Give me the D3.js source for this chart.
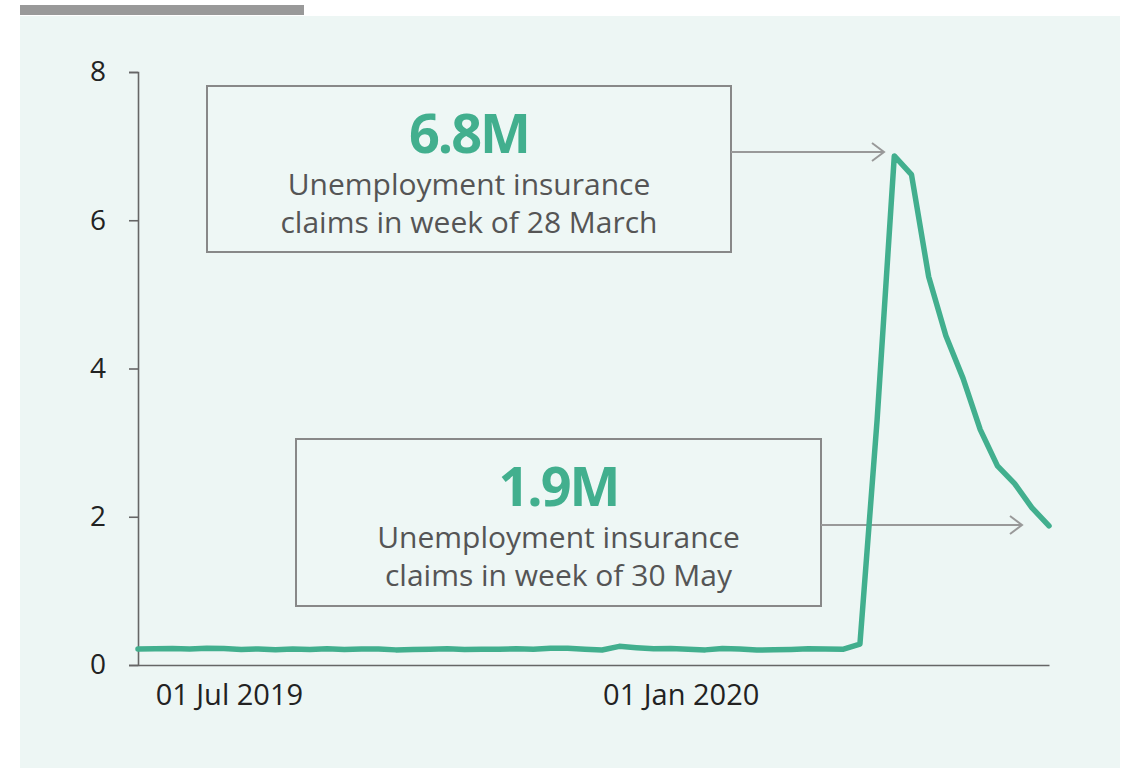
<!DOCTYPE html>
<html>
<head>
<meta charset="utf-8">
<script src="https://cdn.jsdelivr.net/npm/d3@7"></script>
<style>
  body { margin: 0; background: #fff; font-family: "Open Sans", sans-serif; }
  svg { display: block; }
</style>
</head>
<body>
<div id="chart"></div>
<script>
// weekly initial claims, week ending (Saturday)
var weeks = [
  "2019-05-25","2019-06-01","2019-06-08","2019-06-15","2019-06-22","2019-06-29",
  "2019-07-06","2019-07-13","2019-07-20","2019-07-27","2019-08-03","2019-08-10",
  "2019-08-17","2019-08-24","2019-08-31","2019-09-07","2019-09-14","2019-09-21",
  "2019-09-28","2019-10-05","2019-10-12","2019-10-19","2019-10-26","2019-11-02",
  "2019-11-09","2019-11-16","2019-11-23","2019-11-30","2019-12-07","2019-12-14",
  "2019-12-21","2019-12-28","2020-01-04","2020-01-11","2020-01-18","2020-01-25",
  "2020-02-01","2020-02-08","2020-02-15","2020-02-22","2020-02-29","2020-03-07",
  "2020-03-14","2020-03-21","2020-03-28","2020-04-04","2020-04-11","2020-04-18",
  "2020-04-25","2020-05-02","2020-05-09","2020-05-16","2020-05-23","2020-05-30"
];
// millions
var claims = [
  0.215,0.218,0.222,0.216,0.227,0.221,
  0.209,0.216,0.206,0.215,0.209,0.220,
  0.209,0.215,0.217,0.204,0.208,0.213,
  0.219,0.210,0.214,0.212,0.218,0.211,
  0.225,0.227,0.213,0.203,0.252,0.234,
  0.220,0.222,0.214,0.204,0.223,0.216,
  0.201,0.205,0.210,0.219,0.216,0.211,
  0.282,3.307,6.867,6.615,5.237,4.442,
  3.867,3.176,2.687,2.446,2.123,1.877
];
var yTicks = [0, 2, 4, 6, 8];
var xTicks = ["2019-07-01", "2020-01-01"];

var notes = [
  {value: "6.8M", line1: "Unemployment insurance", line2: "claims in week of 28 March"},
  {value: "1.9M", line1: "Unemployment insurance", line2: "claims in week of 30 May"}
];

var parse = d3.timeParse("%Y-%m-%d");
var data = weeks.map(function(w, i) { return {date: parse(w), value: claims[i]}; });

var W = 1125, H = 768;
var svg = d3.select("#chart").append("svg").attr("width", W).attr("height", H);

// header bar + panel
svg.append("rect").attr("x", 20).attr("y", 5).attr("width", 284).attr("height", 10).attr("fill", "#999999");
svg.append("rect").attr("x", 20).attr("y", 16).attr("width", 1100).attr("height", H - 16).attr("fill", "#edf6f4");

var x = d3.scaleTime()
  .domain(d3.extent(data, function(d) { return d.date; }))
  .range([138, 1049]);
var y = d3.scaleLinear().domain([0, 8]).range([665, 72]);

var yAxis = svg.append("g")
  .attr("transform", "translate(138,0)")
  .call(d3.axisLeft(y).tickValues(yTicks).tickSize(9).tickPadding(23));
var xAxis = svg.append("g")
  .attr("transform", "translate(0,665)")
  .call(d3.axisBottom(x).tickValues(xTicks.map(parse)).tickSize(0).tickPadding(19)
    .tickFormat(d3.timeFormat("%d %b %Y")));

[yAxis, xAxis].forEach(function(g) {
  g.selectAll("path, line").attr("stroke", "#666").attr("stroke-width", 1.6);
  g.selectAll("text").attr("fill", "#222").style("font-family", "Open Sans").style("font-size", "28px");
});
xAxis.selectAll("text").style("font-size", "29px");

// boxes
var boxes = [
  {x: 207, y: 86, w: 524, h: 166, ay: 152, tip: 884},
  {x: 296, y: 439, w: 525, h: 167, ay: 525, tip: 1022}
];
boxes.forEach(function(b, i) {
  var g = svg.append("g");
  g.append("rect").attr("x", b.x).attr("y", b.y).attr("width", b.w).attr("height", b.h)
    .attr("fill", "#eef7f5").attr("stroke", "#888").attr("stroke-width", 2);
  var cx = b.x + b.w / 2;
  g.append("text").attr("x", cx).attr("y", b.y + 67).attr("text-anchor", "middle")
    .attr("fill", "#42af8e").style("font-family", "Open Sans").style("font-weight", "bold")
    .style("font-size", "54px").style("letter-spacing", "-2px").text(notes[i].value);
  g.append("text").attr("x", cx).attr("y", b.y + 109).attr("text-anchor", "middle")
    .attr("fill", "#555").style("font-size", "30px").text(notes[i].line1);
  g.append("text").attr("x", cx).attr("y", b.y + 147).attr("text-anchor", "middle")
    .attr("fill", "#555").style("font-size", "30px").text(notes[i].line2);
  // arrow
  g.append("line").attr("x1", b.x + b.w).attr("y1", b.ay).attr("x2", b.tip).attr("y2", b.ay)
    .attr("stroke", "#999").attr("stroke-width", 2);
  g.append("path").attr("d", "M" + (b.tip - 12) + "," + (b.ay - 9) + "L" + b.tip + "," + b.ay + "L" + (b.tip - 12) + "," + (b.ay + 9))
    .attr("fill", "none").attr("stroke", "#999").attr("stroke-width", 2);
});

var line = d3.line()
  .x(function(d) { return x(d.date); })
  .y(function(d) { return y(d.value); });

svg.append("path").datum(data)
  .attr("d", line)
  .attr("fill", "none")
  .attr("stroke", "#42af8e")
  .attr("stroke-width", 5.5)
  .attr("stroke-linejoin", "round")
  .attr("stroke-linecap", "round");
</script>
</body>
</html>
